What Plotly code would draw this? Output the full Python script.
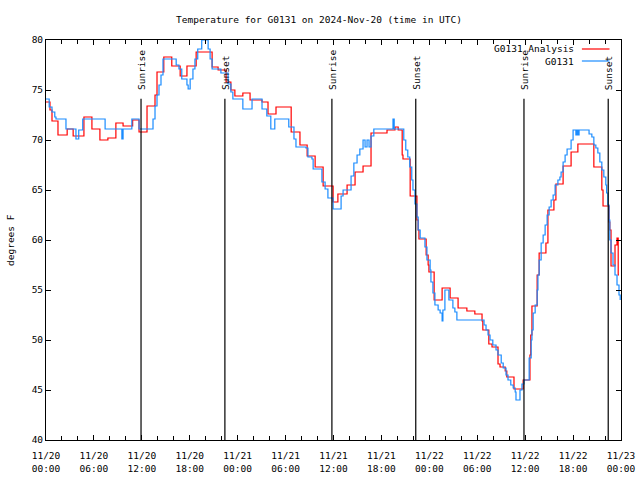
import pandas as pd
import plotly.graph_objects as go

START = pd.Timestamp("2024-11-20 00:00")

# Observed G0131 (hours since 11/20 00:00 UTC, degrees F)
obs_hours = [0, 0.4, 0.75, 1.1, 1.25, 2.4, 2.5, 3.6, 3.75, 4.0, 4.1, 4.6, 7.25, 7.4, 9.4, 9.5, 9.65,
             10.6, 10.75, 11.5, 11.65, 13.15, 13.4, 13.65, 13.9, 14.15, 14.4, 14.65, 16.0, 16.3, 16.65,
             17.0, 17.5, 17.65, 17.8, 18.05, 18.4, 18.65, 19.0, 19.5, 20.15, 20.3, 20.55, 20.8, 21.8,
             21.9, 22.55, 22.8, 23.15, 23.4, 24.55, 24.65, 25.55, 25.8, 26.9, 27.05, 27.65, 28.15,
             28.4, 28.65, 30.2, 30.4, 30.8, 31.05, 31.3, 32.55, 32.8, 33.3, 33.45, 34.3, 34.55, 34.95,
             35.3, 35.8, 35.95, 36.7, 36.95, 37.2, 37.95, 38.2, 38.55, 38.95, 39.3, 39.7, 39.95, 40.2,
             40.45, 40.7, 41.05, 43.3, 43.45, 43.6, 44.6, 44.8, 45.05, 45.3, 45.55, 45.8, 45.95, 46.2,
             46.45, 46.6, 46.85, 47.35, 47.45, 47.7, 48.1, 48.2, 48.45, 48.7, 49.1, 49.35, 49.6, 49.7,
             49.95, 50.35, 50.45, 50.8, 50.95, 51.2, 51.45, 54.6, 54.85, 55.1, 55.35, 55.6, 55.95,
             56.35, 56.6, 57.0, 57.25, 57.6, 57.85, 58.2, 58.5, 58.75, 58.85, 59.25, 59.35, 59.6,
             59.85, 60.35, 60.5, 60.75, 60.85, 61.0, 61.25, 61.5, 61.6, 61.75, 62.0, 62.25, 62.5,
             62.75, 63.0, 63.25, 63.5, 63.75, 64.1, 64.35, 64.5, 64.75, 65.0, 65.25, 65.6, 65.75,
             66.0, 66.25, 66.35, 66.5, 66.6, 66.75, 67.6, 68.0, 68.35, 68.6, 68.85, 69.1, 69.35,
             69.6, 69.85, 70.1, 70.2, 70.35, 70.5, 70.6, 70.75, 71.0, 71.25, 71.5, 71.75, 71.9]
obs_temp = [74.1, 73.3, 72.8, 72.3, 72.1, 72.1, 71.1, 71.1, 70.1, 70.1, 71.0, 72.1, 72.1, 71.1, 71.1,
            70.1, 71.1, 71.1, 72.1, 72.1, 71.1, 71.1, 72.1, 73.4, 74.5, 75.5, 76.5, 78.1, 78.1, 77.5,
            77.1, 76.1, 76.1, 75.5, 75.1, 76.1, 77.1, 78.1, 79.1, 80.0, 80.1, 79.1, 78.1, 77.1, 77.1,
            76.7, 76.7, 75.6, 74.8, 74.1, 74.1, 73.1, 73.1, 74.1, 74.1, 73.1, 72.4, 71.1, 71.1, 72.1,
            72.1, 71.3, 71.3, 70.1, 69.3, 69.2, 68.3, 68.1, 67.1, 67.1, 65.8, 65.1, 64.2, 64.2, 63.1,
            63.1, 64.4, 65.0, 65.0, 66.4, 67.7, 68.5, 69.1, 70.0, 69.3, 70.0, 69.3, 70.4, 71.1, 71.1,
            72.1, 71.1, 71.1, 70.0, 69.0, 68.3, 67.3, 66.0, 65.0, 63.6, 62.3, 61.0, 60.2, 60.2, 59.3,
            58.0, 57.0, 55.8, 54.7, 53.5, 53.0, 52.7, 51.9, 53.0, 55.0, 55.0, 54.0, 54.0, 53.2, 52.8,
            52.0, 52.0, 51.5, 51.0, 50.5, 50.0, 49.5, 49.0, 48.5, 47.7, 47.2, 46.5, 46.0, 45.5, 45.2,
            44.8, 44.0, 44.0, 45.0, 45.6, 46.0, 46.0, 48.2, 50.0, 51.0, 52.7, 53.5, 55.0, 56.5, 58.0,
            59.7, 60.5, 61.5, 62.5, 63.3, 64.0, 64.5, 65.5, 66.0, 66.3, 66.8, 67.8, 68.5, 69.1, 69.1,
            70.0, 71.0, 71.0, 70.5, 71.0, 70.5, 71.0, 71.0, 70.6, 70.3, 69.5, 69.2, 68.7, 67.8, 67.0,
            66.3, 65.5, 64.7, 63.5, 62.0, 60.0, 58.7, 57.5, 56.5, 55.5, 54.5, 54.0]

# G0131 Analysis
ana_hours = [0, 0.5, 0.75, 1.4, 1.5, 2.65, 3.25, 3.4, 4.75, 5.75, 6.75, 7.75, 8.75, 9.65, 10.85,
             11.65, 12.65, 13.65, 13.9, 14.75, 15.75, 16.8, 17.65, 18.8, 20.8, 21.55, 22.55, 23.15,
             23.65, 24.65, 25.55, 27.05, 27.8, 28.8, 30.7, 31.8, 32.7, 33.7, 34.7, 35.95, 36.55,
             37.7, 38.7, 39.7, 40.7, 42.7, 43.7, 44.1, 44.6, 44.7, 45.6, 46.45, 46.6, 46.7, 47.6,
             47.85, 47.95, 48.6, 49.6, 50.6, 51.6, 52.7, 53.7, 54.6, 54.7, 55.45, 55.85, 56.6, 56.85,
             57.5, 57.7, 58.6, 59.75, 60.6, 60.7, 60.85, 61.5, 61.75, 62.6, 62.85, 63.6, 63.85,
             64.75, 65.75, 66.6, 68.6, 69.6, 69.75, 70.5, 70.6, 70.75, 71.25, 71.5, 71.65, 71.75]
ana_temp = [73.8, 73.0, 71.9, 71.9, 70.5, 71.1, 71.1, 70.4, 72.3, 71.1, 70.0, 70.2, 71.7, 71.4, 72.0,
            70.8, 73.4, 74.5, 76.8, 78.3, 77.4, 76.4, 77.4, 78.8, 77.3, 77.0, 75.8, 75.0, 74.4, 74.7,
            74.0, 73.8, 72.6, 73.3, 70.8, 69.5, 68.4, 67.3, 65.4, 63.8, 64.6, 65.5, 66.8, 67.4, 70.7,
            71.0, 71.3, 71.0, 68.5, 68.1, 64.4, 62.0, 61.0, 60.1, 58.5, 57.5, 56.8, 54.0, 55.2, 54.2,
            53.2, 52.9, 52.6, 51.9, 51.0, 49.6, 49.3, 47.6, 47.3, 46.9, 46.3, 45.1, 46.0, 48.5, 50.5,
            53.4, 56.5, 58.7, 59.7, 63.0, 64.0, 65.6, 67.4, 68.8, 69.6, 67.3, 65.0, 63.4, 61.8, 61.0,
            57.4, 59.5, 60.2, 56.5, 56.5]

# Sun events (hours since start)
sun_hours = [11.9, 22.4, 35.8, 46.3, 59.85, 70.4]
sun_labels = ["Sunrise", "Sunset", "Sunrise", "Sunset", "Sunrise", "Sunset"]

y_ticks = [40, 45, 50, 55, 60, 65, 70, 75, 80]

to_time = lambda hrs: START + pd.to_timedelta(hrs, unit="h")

FONT = "DejaVu Sans Mono"
FS = 9.5
RED = "#ff0000"
BLUE = "#1a8cff"

fig = go.Figure()
fig.add_trace(go.Scatter(x=to_time(ana_hours), y=ana_temp, mode="lines", name="G0131 Analysis",
                         line=dict(color=RED, width=1.2, shape="hv"), showlegend=False))
fig.add_trace(go.Scatter(x=to_time(obs_hours), y=obs_temp, mode="lines", name="G0131",
                         line=dict(color=BLUE, width=1.2, shape="hv"), showlegend=False))

for h, lab in zip(sun_hours, sun_labels):
    t = to_time([h])[0]
    fig.add_shape(type="line", xref="x", yref="paper", x0=t, x1=t, y0=0, y1=0.853,
                  line=dict(color="black", width=1.2))
    fig.add_annotation(x=t, xref="x", y=0.87, yref="paper", text=lab, textangle=-90,
                       showarrow=False, xanchor="center", yanchor="bottom",
                       font=dict(family=FONT, size=FS, color="black"))

# legend (text right, sample line to the right as in the original)
for name, col, yp in [("G0131 Analysis", RED, 0.9775), ("G0131", BLUE, 0.9475)]:
    fig.add_annotation(x=0.921, xref="paper", y=yp, yref="paper", text=name, showarrow=False,
                       xanchor="right", yanchor="middle", font=dict(family=FONT, size=FS, color="black"))
    fig.add_shape(type="line", xref="paper", yref="paper", x0=0.932, x1=0.98, y0=yp, y1=yp,
                  line=dict(color=col, width=1.2))

# title and y-axis label as fixed-position texts
fig.add_annotation(text="Temperature for G0131 on 2024-Nov-20 (time in UTC)", x=(319 - 46) / 575,
                   xref="paper", y=(440 - 19) / 400, yref="paper", showarrow=False,
                   xanchor="center", yanchor="middle", font=dict(family=FONT, size=FS, color="black"))
fig.add_annotation(text="degrees F", x=(10 - 46) / 575, xref="paper", y=0.5, yref="paper",
                   textangle=-90, showarrow=False, xanchor="center", yanchor="middle",
                   font=dict(family=FONT, size=FS, color="black"))

fig.update_layout(
    width=640, height=480,
    margin=dict(l=46, r=19, t=40, b=40, autoexpand=False),
    paper_bgcolor="white", plot_bgcolor="white",
    font=dict(family=FONT, size=FS, color="black"),
)
fig.update_xaxes(
    type="date", range=[START, START + pd.Timedelta(hours=72)], automargin=False,
    tick0=START, dtick=6 * 3600 * 1000, tickformat="%m/%d<br>%H:%M",
    ticks="inside", ticklen=5, tickcolor="black", showgrid=False, zeroline=False,
    showline=True, linecolor="black", linewidth=1, mirror="allticks",
    minor=dict(dtick=2 * 3600 * 1000, ticks="inside", ticklen=4, tickcolor="black", showgrid=False),
    tickfont=dict(family=FONT, size=FS), ticklabelstandoff=7,
)
fig.update_yaxes(
    range=[40, 80], tickvals=y_ticks, ticks="inside", ticklen=5, tickcolor="black",
    showgrid=False, zeroline=False, showline=True, linecolor="black", linewidth=1,
    mirror="allticks", tickfont=dict(family=FONT, size=FS), automargin=False,
)

fig.write_html("out.html", config={"displayModeBar": False},
               post_script="document.body.style.margin='0';")
